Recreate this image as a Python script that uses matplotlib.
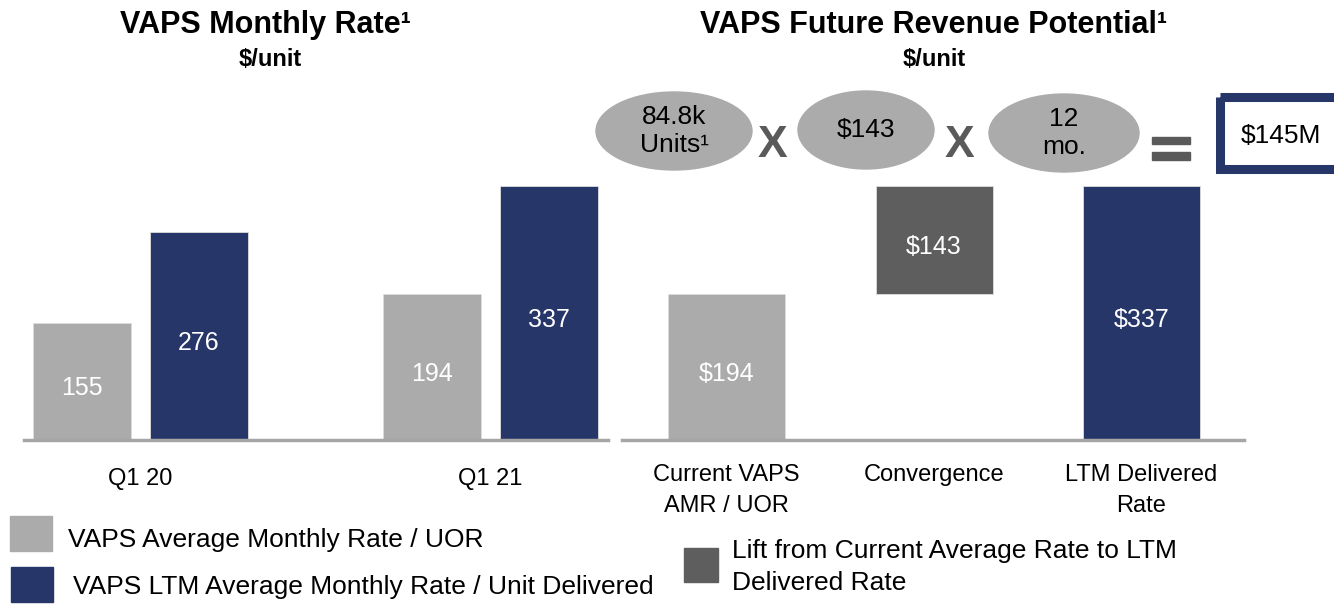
import numpy as np
import matplotlib
matplotlib.use('Agg')
import matplotlib.pyplot as plt
from matplotlib.patches import Ellipse, Rectangle

plt.rcParams['font.family'] = ['Liberation Sans', 'DejaVu Sans']

# left chart: monthly rate per unit
quarters = ['Q1 20', 'Q1 21']
avg_rate = [155, 194]
ltm_rate = [276, 337]

# right chart: bridge from current rate to delivered rate
steps = ['Current VAPS\nAMR / UOR', 'Convergence', 'LTM Delivered\nRate']
current_rate = 194
lift = 143
delivered_rate = 337

# equation on top
units_k = 84.8
months = 12
potential_m = 145

legend_labels = ['VAPS Average Monthly Rate / UOR',
                 'VAPS LTM Average Monthly Rate / Unit Delivered',
                 'Lift from Current Average Rate to LTM\nDelivered Rate']

GRAY = '#ABABAB'
NAVY = '#263669'
DARK = '#5E5E5E'
AXIS = '#A6A6A6'
OP = '#5A5A5A'

W, H = 1334, 604
fig = plt.figure(figsize=(W / 100, H / 100), dpi=100)


def px_axes(x0, x1, y_base, height):
    return fig.add_axes([x0 / W, (H - y_base) / H, (x1 - x0) / W, height / H])


def style(ax):
    for s in ['top', 'left', 'right']:
        ax.spines[s].set_visible(False)
    ax.spines['bottom'].set_color(AXIS)
    ax.spines['bottom'].set_linewidth(2.5)
    ax.set_yticks([])
    ax.set_ylim(0, 400)
    ax.tick_params(axis='x', length=0, labelsize=17)


def value_label(ax, x, y, txt):
    ax.annotate(txt, (x, y), xytext=(0, -3), textcoords='offset points',
                ha='center', va='center_baseline', color='white', fontsize=18)


# ---- left chart
ax1 = px_axes(24, 608, 440, 301.5)
style(ax1)
x = np.arange(len(quarters))
off, bw = 0.167, 0.28
ax1.bar(x - off, avg_rate, bw, color=GRAY, edgecolor='#dddddd', linewidth=0.6)
ax1.bar(x + off, ltm_rate, bw, color=NAVY, edgecolor='#dddddd', linewidth=0.6)
for xi, a, l in zip(x, avg_rate, ltm_rate):
    value_label(ax1, xi - off, a / 2, str(a))
    value_label(ax1, xi + off, l / 2, str(l))
ax1.set_xlim(-0.333, 1.336)
ax1.set_xticks(x, quarters)
ax1.tick_params(axis='x', pad=20)

# ---- right chart
ax2 = px_axes(622, 1244, 440, 301.5)
style(ax2)
bw2 = 0.564
ax2.bar(0, current_rate, bw2, color=GRAY, edgecolor='#dddddd', linewidth=0.6)
ax2.bar(1, lift, bw2, bottom=current_rate, color=DARK, edgecolor='#dddddd', linewidth=0.6)
ax2.bar(2, delivered_rate, bw2, color=NAVY, edgecolor='#dddddd', linewidth=0.6)
value_label(ax2, 0, current_rate / 2, f'${current_rate}')
value_label(ax2, 1, current_rate + lift / 2, f'${lift}')
value_label(ax2, 2, delivered_rate / 2, f'${delivered_rate}')
ax2.set_xlim(-0.504, 2.494)
ax2.set_xticks(range(len(steps)), steps, linespacing=1.55)
ax2.tick_params(axis='x', pad=17)

# ---- overlay in pixel coordinates for titles, equation and legends
ov = fig.add_axes([0, 0, 1, 1])
ov.set_xlim(0, W)
ov.set_ylim(H, 0)
ov.axis('off')

ov.text(265, 25, 'VAPS Monthly Rate\u00b9', ha='center', va='center',
        fontsize=22, fontweight='bold')
ov.text(270, 60, '$/unit', ha='center', va='center', fontsize=17, fontweight='bold')
ov.text(934, 25, 'VAPS Future Revenue Potential\u00b9', ha='center', va='center',
        fontsize=22, fontweight='bold')
ov.text(934, 60, '$/unit', ha='center', va='center', fontsize=17, fontweight='bold')

ell_txt = [f'{units_k}k\nUnits\u00b9', f'${lift}', f'{months}\nmo.']
ell_pos = [(674, 131, 156), (866, 130, 136), (1064, 133, 150)]
for (cx, cy, ew), t in zip(ell_pos, ell_txt):
    ov.add_patch(Ellipse((cx, cy), ew, 78, color=GRAY, zorder=2))
    ov.text(cx, cy, t, ha='center', va='center', fontsize=19, zorder=3,
            linespacing=1.25)
for cx in [772, 959]:
    ov.text(cx, 141, 'X', ha='center', va='center_baseline', fontsize=32,
            fontweight='bold', color=OP)
# equals sign as two bars
ov.add_patch(Rectangle((1152, 137), 38, 7, color=OP))
ov.add_patch(Rectangle((1152, 152), 38, 8, color=OP))
ov.add_patch(Rectangle((1219.5, 96.5), 140, 72, fill=False, edgecolor=NAVY,
                       linewidth=6.5, zorder=3))
ov.text(1281, 136, f'${potential_m}M', ha='center', va='center', fontsize=19)

# legends
leg = [(10, 516, 42, 35, GRAY, 68, 540, 1.2, legend_labels[0]),
       (11, 567, 42, 35, NAVY, 73, 587, 1.2, legend_labels[1]),
       (684, 548, 34, 34, DARK, 732, 567, 1.38, legend_labels[2])]
for sx, sy, sw, sh, c, tx, ty, ls, t in leg:
    ov.add_patch(Rectangle((sx, sy), sw, sh, color=c))
    ov.text(tx, ty, t, ha='left', va='center', fontsize=19, linespacing=ls)

fig.savefig('out.png', dpi=100)
